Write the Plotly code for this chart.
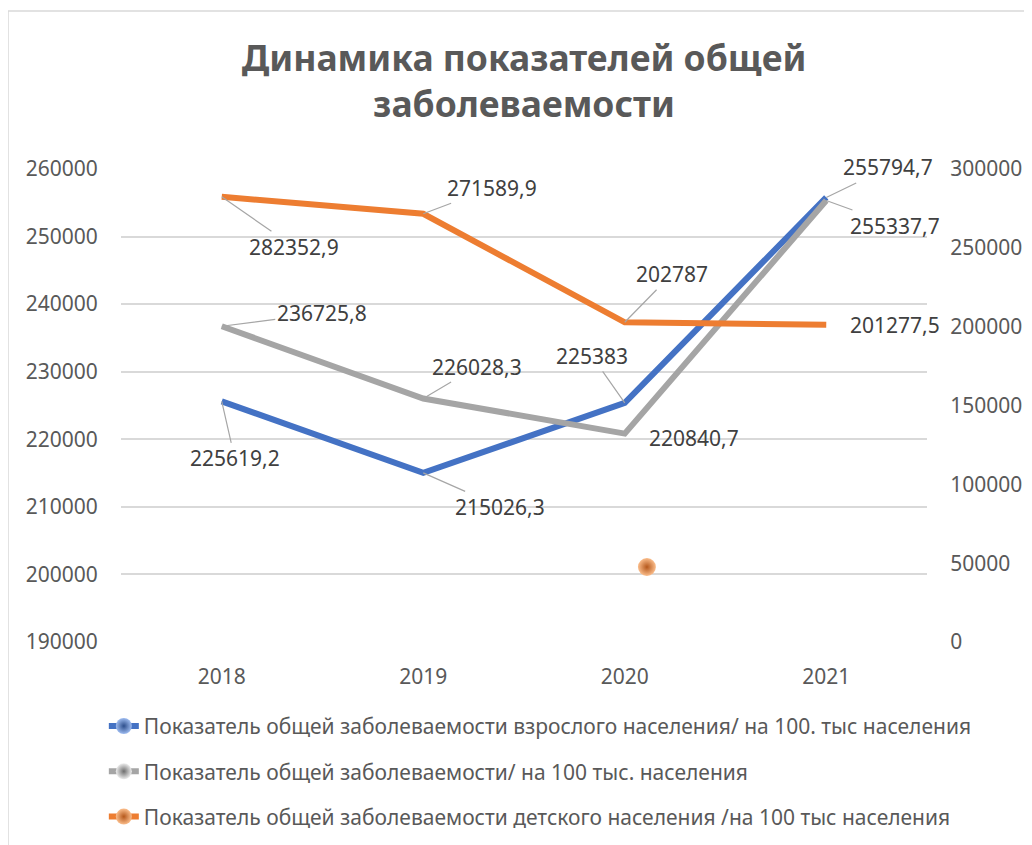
import plotly.graph_objects as go

# ---------------- data ----------------
years = [2018, 2019, 2020, 2021]
adult = [225619.2, 215026.3, 225383, 255794.7]
total = [236725.8, 226028.3, 220840.7, 255337.7]
child = [282352.9, 271589.9, 202787, 201277.5]

names = [
    "Показатель общей заболеваемости взрослого населения/ на 100. тыс населения",
    "Показатель общей заболеваемости/ на 100 тыс. населения",
    "Показатель общей заболеваемости детского населения /на 100 тыс населения",
]
title_text = "Динамика показателей общей<br>заболеваемости"

left_ticks = [190000, 200000, 210000, 220000, 230000, 240000, 250000, 260000]
right_ticks = [0, 50000, 100000, 150000, 200000, 250000, 300000]

# stray orange marker visible in the original picture
stray_x = [2020.11]
stray_y = [47570]

# ---------------- styles ----------------
FONT = "Noto Sans"
colors = ["#4472C4", "#A5A5A5", "#ED7D31"]
light = ["#9DBBF0", "#EDEDED", "#FBBE8C"]
dark = ["#2E4F8C", "#6E6E6E", "#B5581C"]
axes = ["y", "y", "y2"]

# label offsets (pixels from point to label centre) and leader flags
offsets = [
    [(13, 57), (77, 34), (-33, -47), (62, -30)],
    [(100, -13), (54, -32), (69, 4), (69, 25)],
    [(72, 50), (69, -26), (47, -48), (69, 0)],
]
leaders = [
    [True, True, True, True],
    [True, True, False, True],
    [True, True, True, False],
]

series = [adult, total, child]

# page has an 8px body margin: figure is sized to fit the viewport
W, H = 1024, 837


def fmt(v):
    if float(v).is_integer():
        return str(int(v))
    return f"{v:.1f}".replace(".", ",")


fig = go.Figure()

for i, vals in enumerate(series):
    fig.add_trace(go.Scatter(
        x=years, y=vals, mode="lines", yaxis=axes[i],
        line=dict(color=colors[i], width=6),
        showlegend=False, hoverinfo="skip",
    ))

# legend entries
for i in range(3):
    fig.add_trace(go.Scatter(
        x=[None], y=[None], mode="lines+markers", name=names[i],
        legendgroup=f"g{i}",
        line=dict(color=colors[i], width=6),
        marker=dict(size=16, color=light[i],
                    gradient=dict(type="radial", color=dark[i]),
                    line=dict(width=0)),
    ))

# stray point
fig.add_trace(go.Scatter(
    x=stray_x, y=stray_y, yaxis="y2", mode="markers", showlegend=False,
    marker=dict(size=18, color=light[2],
                gradient=dict(type="radial", color=dark[2]),
                line=dict(width=0)),
    hoverinfo="skip",
))

annotations = []
for i, vals in enumerate(series):
    for j, v in enumerate(vals):
        ax, ay = offsets[i][j]
        annotations.append(dict(
            x=years[j], y=v, xref="x", yref=axes[i],
            text=fmt(v), showarrow=True, ax=ax, ay=ay,
            arrowhead=0, arrowwidth=1.2, standoff=0,
            arrowcolor="#A6A6A6" if leaders[i][j] else "rgba(0,0,0,0)",
            font=dict(family=FONT, size=21, color="#404040"),
        ))

L, R, T, B = 113, 105, 161, 203
pw, ph = W - L - R, H - T - B

fig.update_layout(
    width=W, height=H,
    margin=dict(l=L, r=R, t=T, b=B, autoexpand=False),
    paper_bgcolor="white", plot_bgcolor="white",
    font=dict(family=FONT, color="#595959"),
    title=dict(
        text=title_text, x=0.5, xref="paper", xanchor="center",
        y=1 - 63 / H, yref="container", yanchor="top",
        font=dict(family=FONT, size=35.5, color="#595959", weight="bold"),
    ),
    xaxis=dict(
        range=[2017.5, 2021.5], tickvals=years, ticktext=[str(y) for y in years],
        showgrid=False, zeroline=False, showline=False,
        ticks="outside", ticklen=16, tickcolor="rgba(0,0,0,0)",
        tickfont=dict(family=FONT, size=21, color="#595959"),
    ),
    yaxis=dict(
        range=[190000, 260000], tickvals=left_ticks, tickformat="d",
        showgrid=True, gridcolor="#D9D9D9", gridwidth=1.5,
        zeroline=False, showline=False,
        ticks="outside", ticklen=18, tickcolor="rgba(0,0,0,0)",
        tickfont=dict(family=FONT, size=21, color="#595959"),
    ),
    yaxis2=dict(
        range=[0, 300000], tickvals=right_ticks, tickformat="d",
        overlaying="y", side="right", showgrid=False, zeroline=False,
        showline=False,
        ticks="outside", ticklen=18, tickcolor="rgba(0,0,0,0)",
        tickfont=dict(family=FONT, size=21, color="#595959"),
    ),
    legend=dict(
        x=-0.0213, xanchor="left", y=-0.135, yanchor="top",
        orientation="v", tracegroupgap=15, bgcolor="rgba(0,0,0,0)",
        font=dict(family=FONT, size=21, color="#595959"),
        itemwidth=30,
    ),
    annotations=annotations,
    shapes=[dict(
        type="rect", xref="paper", yref="paper",
        x0=(0 - L) / pw, x1=1.3, y0=-0.6, y1=(T + ph - 3) / ph,
        line=dict(color="#D9D9D9", width=1.5), fillcolor="rgba(0,0,0,0)",
        layer="below",
    )],
    showlegend=True,
)

fig.write_html("out.html")
